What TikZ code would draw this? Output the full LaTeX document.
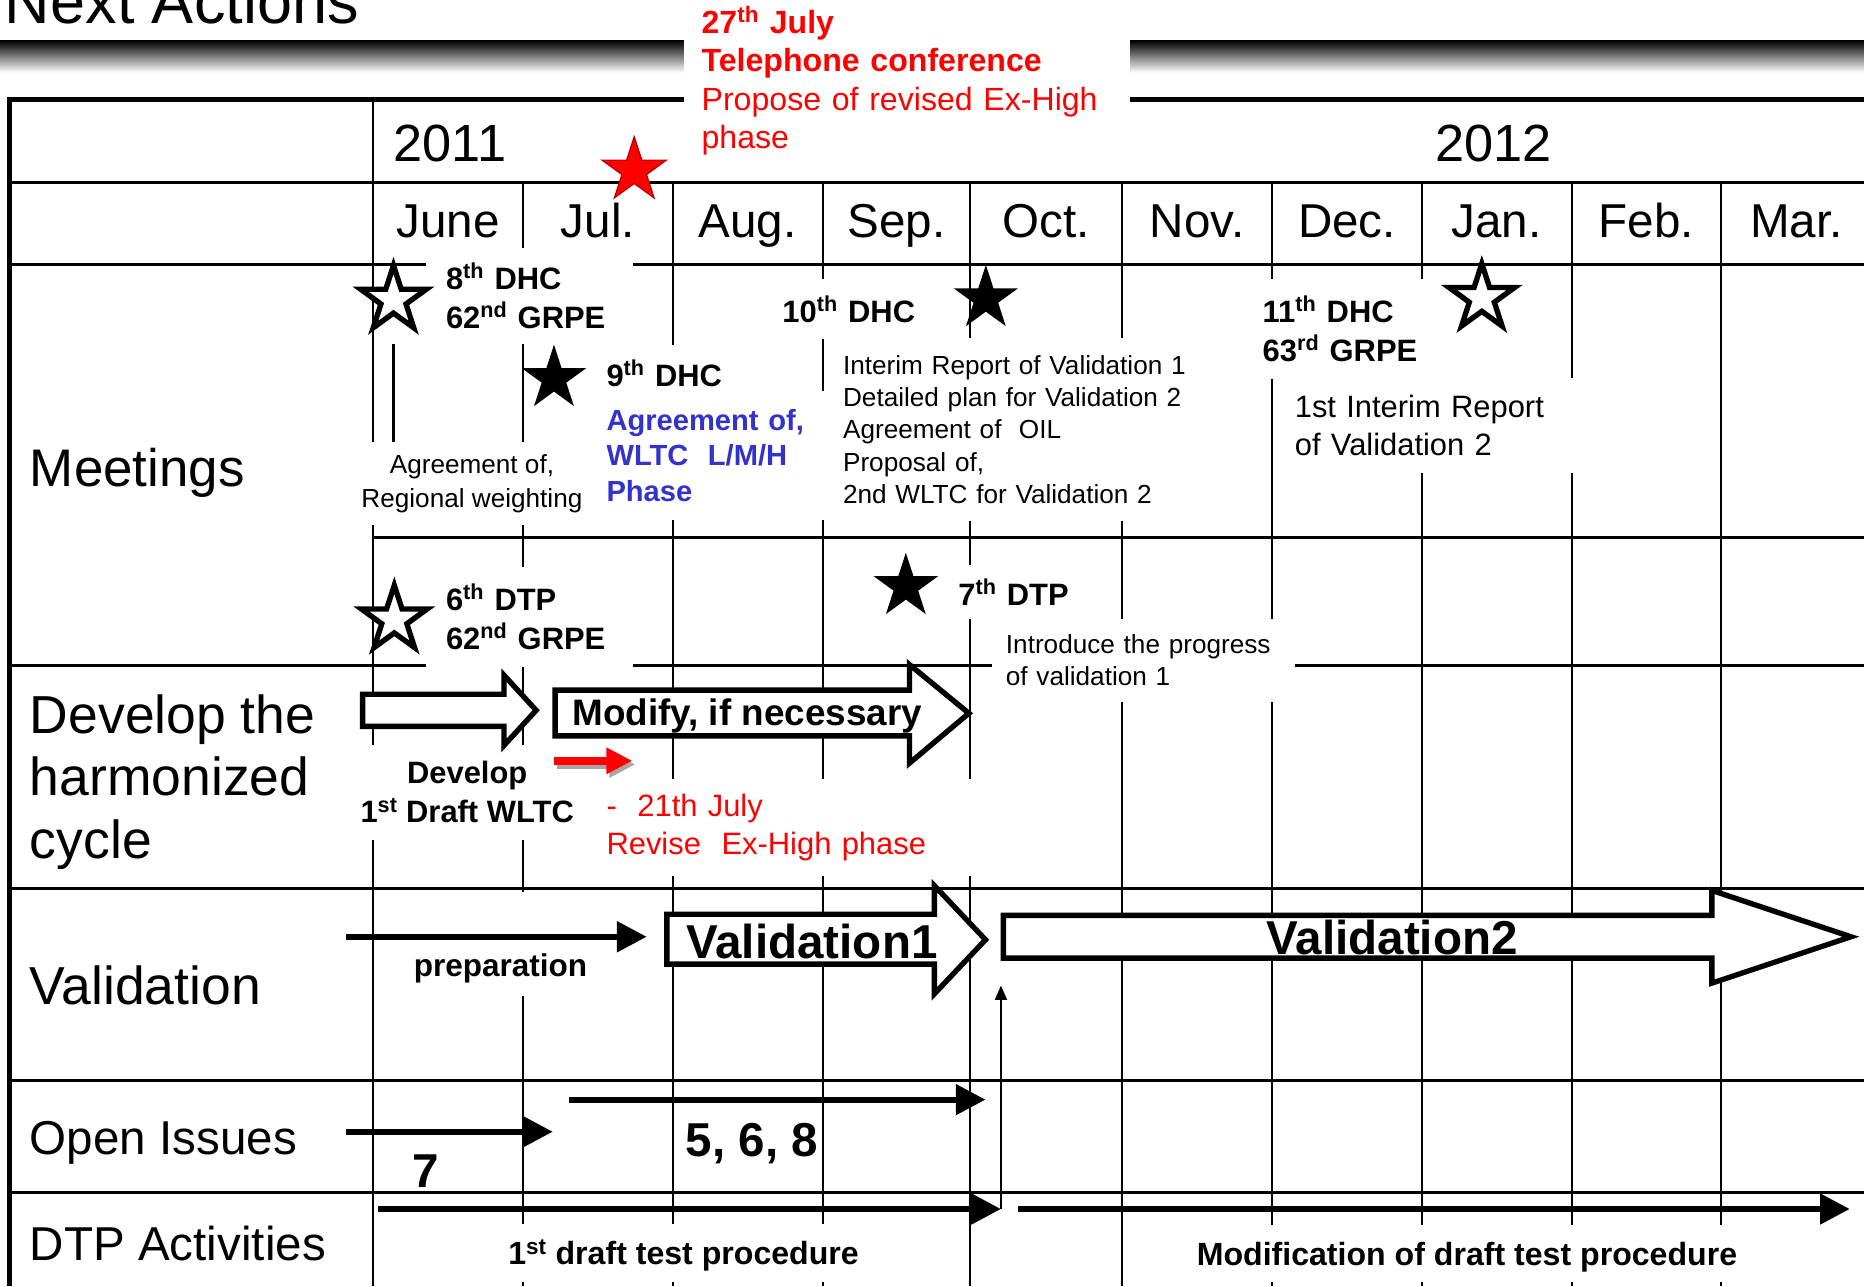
\documentclass[tikz,border=0pt]{standalone}
\usepackage{fontspec}
\setmainfont{Liberation Sans}
\usetikzlibrary{shapes.geometric,arrows.meta}
\definecolor{agreeblue}{RGB}{51,51,204}
\newcommand{\tsize}[2]{\fontsize{#1pt}{#2pt}\selectfont}
\newcommand{\sups}[1]{\textsuperscript{#1}}

\begin{document}
\begin{tikzpicture}
                \tikzset{x=1pt, y=-1pt}
                \tikzstyle{hline}=[line width=2.5pt]
                \tikzstyle{vline}=[line width=1.8pt]
                \tikzstyle{month}=[font=\tsize{40}{48}, anchor=base, inner sep=0pt]
                \tikzstyle{rowlbl}=[font=\tsize{45}{52.7}, anchor=base west, inner sep=0pt]
                \tikzstyle{note}=[fill=white, anchor=west, align=left, inner ysep=0pt]
                \tikzstyle{meet}=[note, font=\tsize{26}{33}\bfseries]
                \tikzstyle{remark}=[note, font=\tsize{22}{27.2}]
                \tikzstyle{label}=[anchor=base, inner sep=0pt]
                \tikzstyle{openstar}=[star, star points=5, star point ratio=2.618, inner sep=0pt, minimum size=58pt, draw, line width=4.5pt, fill=white]
                \tikzstyle{fullstar}=[star, star points=5, star point ratio=2.618, inner sep=0pt, minimum size=57pt, fill=black]
                \tikzstyle{blockarrow}=[draw, line width=4.5pt, fill=white]
                \tikzstyle{bar}=[line width=5pt, -{Triangle[length=25pt, width=25pt]}]

                \useasboundingbox (0, 0) rectangle (1568, 1082);

                \draw (4, 19.6)       node[anchor=base west, inner sep=0pt, font=\tsize{53}{60}] (title) {Next Actions};
                \shade[top color=black, bottom color=white] (0, 34) rectangle (1568, 61);

                \draw[line width=4pt]   (6, 83.4) -- (1568, 83.4);
                \draw[line width=4.5pt] (8, 83.4) -- (8, 1082);
                \foreach \y in {153.5, 222.5, 559.5, 747.5, 909, 1003.5}
                    \draw[hline] (8, \y) -- (1568, \y);
                \draw[hline] (314, 452) -- (1568, 452);
                \draw[line width=2pt] (314, 83.4) -- (314, 1082);
                \foreach \x in {440, 566, 692, 816, 944, 1070, 1196, 1322, 1448}
                    \draw[vline] (\x, 153.5) -- (\x, 1082);
                \draw[vline] (331, 289) -- (331, 372);

                \draw (378.5, 136)    node[month, font=\tsize{44}{52}] (y2011) {2011};
                \draw (1256.5, 136)   node[month, font=\tsize{44}{52}] (y2012) {2012};
                \foreach \m/\x in {June/377, Jul./503, Aug./629, Sep./754, Oct./880, Nov./1007, Dec./1133, Jan./1259, Feb./1385, Mar./1511}
                    \draw (\x, 200) node[month] (m\x) {\m};

                \draw (25, 409)       node[rowlbl, font=\tsize{44.5}{53}] (meetings) {Meetings};
                \draw (25, 657.8)     node[rowlbl, anchor=west, align=left] (develop) {Develop the\\harmonized\\cycle};
                \draw (25, 845)       node[rowlbl] (validation) {Validation};
                \draw (25, 971)       node[rowlbl, font=\tsize{40}{48}] (openissues) {Open Issues};
                \draw (25, 1060)      node[rowlbl, font=\tsize{40}{48}] (dtpact) {DTP Activities};

                \draw (575, 68)       node[note, inner xsep=15pt, text width=345pt, minimum height=140pt, text=red, font=\tsize{27}{32.2}] (telconf) {\textbf{27\sups{th} July}\\\textbf{Telephone conference}\\Propose of revised Ex-High\\phase};
                \draw (358, 249)      node[meet, inner xsep=17pt, text width=140pt, minimum height=80pt] (dhc8) {8\sups{th} DHC\\62\sups{nd} GRPE};
                \draw (397, 407)      node[note, anchor=center, align=center, font=\tsize{22}{28}, minimum width=198pt, minimum height=70pt, inner xsep=0pt] (weighting) {Agreement of,\\Regional weighting};
                \draw (498, 314)      node[meet, inner xsep=12pt, text width=103pt, minimum height=48pt] (dhc9) {9\sups{th} DHC};
                \draw (498, 383)      node[meet, font=\tsize{24.5}{30}\bfseries, text=agreeblue, inner xsep=12pt, text width=175pt, minimum height=108pt] (lmh) {Agreement of,\\WLTC~~L/M/H\\Phase};
                \draw (645, 260)      node[meet, inner xsep=13pt, text width=119pt, minimum height=50pt] (dhc10) {10\sups{th} DHC};
                \draw (699, 361.4)    node[remark, inner xsep=10pt, text width=300pt, minimum height=154pt] (interim1) {Interim Report of Validation 1\\Detailed plan for Validation 2\\Agreement of~~OIL\\Proposal of,\\2nd WLTC for Validation 2};
                \draw (1050, 276.5)   node[meet, inner xsep=12pt, text width=140pt, minimum height=84pt] (dhc11) {11\sups{th} DHC\\63\sups{rd} GRPE};
                \draw (1077, 358)     node[note, font=\tsize{26}{32}, inner xsep=12pt, text width=229pt, minimum height=80pt] (interim2) {1st Interim Report\\of Validation 2};
                \draw (358, 519)      node[meet, inner xsep=17pt, text width=140pt, minimum height=84pt] (dtp6) {6\sups{th} DTP\\62\sups{nd} GRPE};
                \draw (795, 498)      node[meet, inner xsep=11pt, text width=100pt, minimum height=46pt] (dtp7) {7\sups{th} DTP};
                \draw (834, 555.5)    node[remark, inner xsep=12pt, text width=231pt, minimum height=70pt] (progress) {Introduce the progress\\of validation 1};
                \draw (393, 666.5)    node[meet, anchor=center, align=center, minimum width=192pt, minimum height=80pt, inner xsep=0pt] (draft) {Develop\\1\sups{st} Draft WLTC};
                \draw (500, 696)      node[note, font=\tsize{26}{32}, text=red, inner xsep=10pt, text width=302pt, minimum height=82pt] (revise) {-~~21th July\\Revise~~Ex-High phase};
                \draw (421, 821.6)    node[label, fill=white, font=\tsize{26.5}{32}\bfseries, text height=71pt, text depth=16pt, minimum width=160pt] (prep) {preparation};
                \draw (575, 1064)     node[label, fill=white, font=\tsize{27}{32}\bfseries, text height=34pt, text depth=14pt, minimum width=310pt] (proc1) {1\sups{st} draft test procedure};
                \draw (1234, 1064.5)  node[label, fill=white, font=\tsize{27}{32}\bfseries, text height=34pt, text depth=14pt, minimum width=480pt] (proc2) {Modification of draft test procedure};
                \draw (358.5, 999)    node[label, font=\tsize{40}{48}\bfseries] (issue7) {7};
                \draw (632.5, 973)    node[label, font=\tsize{40}{48}\bfseries] (issues) {5, 6, 8};

                \draw (331, 252.3)    node[openstar] (s8dhc) {};
                \draw (466, 318.5)    node[fullstar] (s9dhc) {};
                \draw (533.5, 143.5)  node[fullstar, fill=red, draw=red!70!black, line width=1pt] (stel) {};
                \draw (829.3, 251.3)  node[fullstar] (s10dhc) {};
                \draw (1246.5, 250.8) node[openstar] (s11dhc) {};
                \draw (331.7, 521.3)  node[openstar] (s6dtp) {};
                \draw (762, 493.5)    node[fullstar] (s7dtp) {};

                \draw[blockarrow] (305, 584) -- (424, 584) -- (424, 568) -- (451, 597.5) -- (424, 627) -- (424, 611) -- (305, 611) -- cycle;
                \draw[blockarrow] (467, 580.5) -- (765, 580.5) -- (765, 559) -- (815, 600) -- (765, 642) -- (765, 619) -- (467, 619) -- cycle;
                \draw[blockarrow] (561, 769) -- (786, 769) -- (786, 745) -- (829, 790.5) -- (786, 836) -- (786, 811) -- (561, 811) -- cycle;
                \draw[blockarrow] (844, 770) -- (1440, 770) -- (1440, 749) -- (1557, 788) -- (1440, 827) -- (1440, 806) -- (844, 806) -- cycle;
                \draw (628.5, 610)    node[label, font=\tsize{31}{36}\bfseries] (modify) {Modify, if necessary};
                \draw (683, 806)      node[label, font=\tsize{40}{48}\bfseries] (val1) {Validation1};
                \draw (1171, 803)     node[label, font=\tsize{40}{48}\bfseries] (val2) {Validation2};

                \coordinate (prepS) at (291, 788);
                \coordinate (prepE) at (544, 788);
                \coordinate (oiaS)  at (291, 952);
                \coordinate (oiaE)  at (465, 952);
                \coordinate (oibS)  at (479, 925);
                \coordinate (oibE)  at (829, 925);
                \coordinate (dtpaS) at (318, 1017);
                \coordinate (dtpaE) at (842, 1017);
                \coordinate (dtpbS) at (856, 1017);
                \coordinate (dtpbE) at (1556, 1017);
                \coordinate (vtwo)  at (842, 829);
                \coordinate (redS)  at (466, 640);
                \coordinate (redE)  at (532, 640);

                \draw[bar] (prepS) -- (prepE);
                \draw[bar] (oiaS) -- (oiaE);
                \draw[bar] (oibS) -- (oibE);
                \draw[bar] (dtpaS) -- (dtpaE);
                \draw[bar] (dtpbS) -- (dtpbE);
                \draw[line width=1.5pt, -{Triangle[length=12pt, width=10pt]}] (dtpaE) -- (vtwo);
                \draw[line width=7pt, black!35, -{Triangle[length=22pt, width=21pt]}] ([shift={(2.5,3)}]redS) -- ([shift={(2.5,3)}]redE);
                \draw[line width=7pt, red, -{Triangle[length=22pt, width=21pt]}] (redS) -- (redE);
            \end{tikzpicture}
\end{document}
